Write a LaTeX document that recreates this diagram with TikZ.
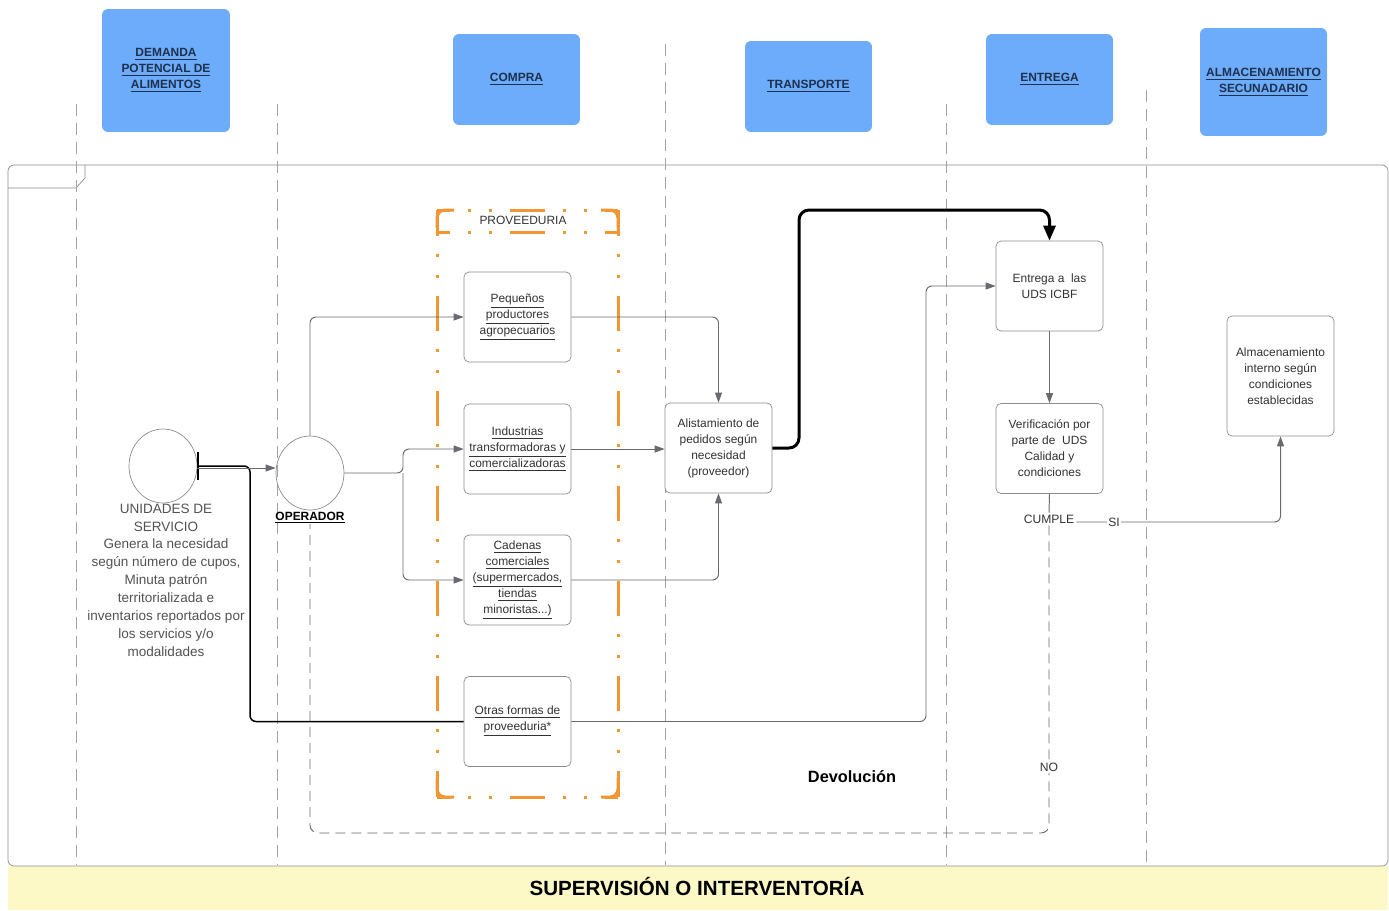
\documentclass[tikz,border=0pt]{standalone}
\usepackage{fontspec}
\setmainfont{Liberation Sans}
\usepackage{tikz}
\usetikzlibrary{shapes,positioning,backgrounds,calc,arrows.meta}

\definecolor{laneblue}{RGB}{108,172,250}
\definecolor{lanetext}{RGB}{30,48,78}
\definecolor{provorange}{RGB}{240,150,50}
\definecolor{supyellow}{RGB}{253,249,199}
\definecolor{framegray}{RGB}{140,140,140}
\definecolor{linegray}{RGB}{105,105,112}
\definecolor{textgray}{RGB}{50,50,50}

\newcommand{\uln}[1]{\underline{#1}}

\tikzset{
    lanehead/.style={rectangle, rounded corners=0.12cm, fill=laneblue, minimum width=2.54cm, minimum height=1.82cm, text=lanetext, align=center, font=\fontsize{6.8}{9.1}\selectfont\bfseries},
    procbox/.style={rectangle, rounded corners=0.1cm, draw=framegray, fill=white, minimum width=2.14cm, minimum height=1.8cm, text=textgray, align=center, inner sep=1pt, font=\fontsize{6.8}{9.1}\selectfont},
    actor/.style={ellipse, draw=framegray, minimum width=1.36cm, minimum height=1.48cm, inner sep=0pt},
    lanesep/.style={draw=framegray!80, line width=0.5pt, dash pattern=on 0.24cm off 0.14cm},
    provframe/.style={draw=provorange, line width=0.06cm, dash pattern=on 0.7cm off 0.36cm on 0.06cm off 0.36cm on 0.06cm off 0.36cm},
    provcorner/.style={draw=provorange, line width=0.06cm, rounded corners=0.16cm},
    conn/.style={draw=linegray, line width=0.55pt, rounded corners=0.12cm, -{Triangle[length=0.2cm,width=0.14cm]}},
    plainconn/.style={draw=linegray, line width=0.55pt, rounded corners=0.12cm},
    thickconn/.style={draw=black, line width=0.06cm, rounded corners=0.2cm, -{Triangle[length=0.3cm,width=0.24cm]}},
    udsline/.style={draw=black, line width=0.85pt, rounded corners=0.12cm, {Bar[width=0.56cm]}-},
    returnline/.style={draw=linegray, line width=0.55pt, rounded corners=0.16cm, dash pattern=on 0.2cm off 0.12cm},
    flowlabel/.style={fill=white, inner sep=1pt, text=textgray, font=\fontsize{6.9}{8}\selectfont},
}

\begin{document}
\begin{tikzpicture}[x=0.02cm, y=-0.02cm]
    \useasboundingbox (0,0) rectangle (1389,910);

    % outer frame and supervision band
    \fill[supyellow] (8,866) rectangle (1388,910);
    \draw[framegray, rounded corners=0.12cm] (8,165) rectangle (1388,866);
    \draw[framegray] (8,188) -- (76,188) -- (85,178) -- (85,165);
    \node[font=\fontsize{11.7}{14}\selectfont\bfseries] (supervision) at (697,886) {SUPERVISIÓN O INTERVENTORÍA};

    % swimlane separators
    \foreach \x/\y in {76/104, 277/104, 665/44, 946/104, 1146/90}
        \draw[lanesep] (\x,\y) -- (\x,865);

    % lane headers
    \node[lanehead, minimum width=2.56cm, minimum height=2.46cm] (hdemanda) at (166,70.5) {\uln{DEMANDA}\\\uln{POTENCIAL DE}\\\uln{ALIMENTOS}};
    \node[lanehead] (hcompra) at (516.5,79.5) {\uln{COMPRA}};
    \node[lanehead] (htransporte) at (808.5,86.5) {\uln{TRANSPORTE}};
    \node[lanehead] (hentrega) at (1049.5,79.5) {\uln{ENTREGA}};
    \node[lanehead, minimum height=2.16cm] (halmacen) at (1263.5,82) {\uln{ALMACENAMIENTO}\\\uln{SECUNADARIO}};

    % proveeduria container (sides dashed, corners solid)
    \foreach \x in {437, 618}
        \draw[provframe, dash phase=0.18cm] (\x,210) -- (\x,797);
    \foreach \y in {210, 232, 797}
        \draw[provframe, dash phase=0.44cm] (437,\y) -- (618,\y);
    \draw[provcorner] (437,228) -- (437,210) -- (454,210);
    \draw[provcorner] (601,210) -- (618,210) -- (618,228);
    \draw[provcorner] (437,778) -- (437,797) -- (454,797);
    \draw[provcorner] (601,797) -- (618,797) -- (618,778);
    \node[text=textgray, font=\fontsize{6.8}{8}\selectfont] (provlabel) at (523,220) {PROVEEDURIA};

    % actors
    \node[actor] (uds) at (163,466) {};
    \node[below=0cm of uds, xshift=0.06cm, inner sep=0pt, align=center, text=black!68, font=\fontsize{7.7}{10.2}\selectfont] (udslabel)
        {UNIDADES DE\\SERVICIO\\Genera la necesidad\\según número de cupos,\\Minuta patrón\\territorializada e\\inventarios reportados por\\los servicios y/o\\modalidades};
    \node[actor] (oper) at (310,473) {};
    \node[below=0.02cm of oper, inner sep=0pt, font=\fontsize{6.8}{8}\selectfont\bfseries] (oplabel) {\uln{OPERADOR}};

    % process boxes
    \node[procbox] (peq) at (517.5,317) {\uln{Pequeños}\\\uln{productores}\\\uln{agropecuarios}};
    \node[procbox] (ind) at (517.5,449) {\uln{Industrias}\\\uln{transformadoras y}\\\uln{comercializadoras}};
    \node[procbox] (cad) at (517.5,580) {\uln{Cadenas}\\\uln{comerciales}\\\uln{(supermercados,}\\\uln{tiendas}\\\uln{minoristas...)}};
    \node[procbox] (otras) at (517.5,721.5) {\uln{Otras formas de}\\\uln{proveeduria*}};
    \node[procbox] (alist) at (718.5,448) {Alistamiento de\\pedidos según\\necesidad\\(proveedor)};
    \node[procbox] (entrega) at (1049.5,286) {Entrega a\ \ las\\UDS ICBF};
    \node[procbox] (verif) at (1049.5,448.5) {Verificación por\\parte de\ \ UDS\\Calidad y\\condiciones};
    \node[procbox, minimum height=2.4cm] (almac) at (1280.5,376) {Almacenamiento\\interno según\\condiciones\\establecidas};
    \node[flowlabel] (cumple) at (1049,519) {CUMPLE};

    % helper points
    \coordinate (udsdrop) at (250,466);
    \coordinate (split) at (403,473);
    \coordinate (tophop) at (799,210);
    \coordinate (rethop) at (926,286);
    \coordinate (retcorner) at (310,833);

    % connectors
    \draw[udsline] (uds.east) -- (udsdrop) |- (otras.west);
    \draw[conn] ([yshift=-0.04cm]uds.east) -- ([yshift=-0.04cm]uds.east -| oper.west);
    \draw[conn] (oper.north) |- (peq.west);
    \draw[conn] (oper.east) -- (split) |- (ind.west);
    \draw[conn] (split) |- (cad.west);
    \draw[conn] (peq.east) -| (alist.north);
    \draw[conn] (ind.east) -- (ind.east -| alist.west);
    \draw[conn] (cad.east) -| (alist.south);
    \draw[thickconn] (alist.east) -| (tophop) -| (entrega.north);
    \draw[conn] (otras.east) -| (rethop) -- (entrega.west);
    \draw[conn] (entrega.south) -- (verif.north);
    \draw[plainconn] (verif.south) -- (cumple.north);
    \draw[conn] ([yshift=-0.06cm]cumple.east) -| (almac.south);
    \draw[returnline] (cumple.south) |- (retcorner) -- (oplabel.south);

    % branch labels
    \node[flowlabel] (silabel) at (1114,522) {SI};
    \node[flowlabel] (nolabel) at (1049,767) {NO};
    \node[font=\fontsize{9.3}{11}\selectfont\bfseries] (devol) at (852,777) {Devolución};
\end{tikzpicture}
\end{document}
